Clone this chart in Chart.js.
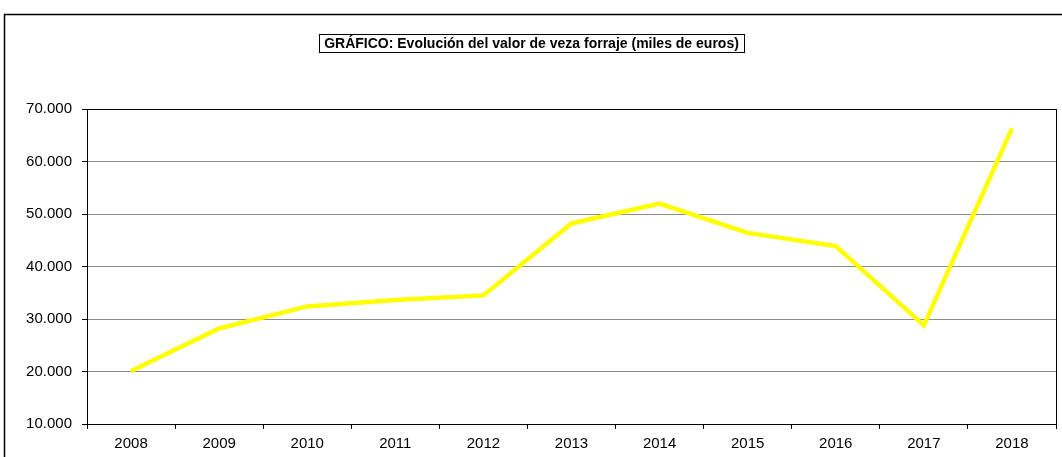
<!DOCTYPE html>
<html lang="es">
<head>
<meta charset="utf-8">
<title>Evolución del valor de veza forraje</title>
<script src="https://cdn.jsdelivr.net/npm/chart.js@4/dist/chart.umd.min.js"></script>
<style>
  html, body { margin: 0; padding: 0; background: #fff; }
  #caja { position: relative; width: 1062px; height: 457px; }
</style>
</head>
<body>
<div id="caja"><canvas id="grafico"></canvas></div>
<script>
const anios = ['2008', '2009', '2010', '2011', '2012', '2013', '2014', '2015', '2016', '2017', '2018'];
const valorVeza = [20100, 28200, 32400, 33600, 34500, 48200, 52000, 46400, 43900, 28800, 66300];
const ticksY = [10000, 20000, 30000, 40000, 50000, 60000, 70000];
const titulo = 'GRÁFICO: Evolución del valor de veza forraje (miles de euros)';

const fuente = "'Liberation Sans', Arial, sans-serif";

// miles con punto: 70000 -> 70.000
function formatoMiles(v) {
    return String(v).replace(/\B(?=(\d{3})+(?!\d))/g, '.');
}

// marco exterior, borde del area de trazado y titulo recuadrado
const marcos = {
    id: 'marcos',
    beforeDraw(chart) {
        const ctx = chart.ctx;
        ctx.save();
        ctx.fillStyle = '#fff';
        ctx.fillRect(0, 0, chart.width, chart.height);
        ctx.strokeStyle = '#000';
        ctx.lineWidth = 1.5;
        ctx.strokeRect(4.5, 14.5, chart.width + 10, chart.height + 10);
        ctx.restore();
    },
    afterDraw(chart) {
        const ctx = chart.ctx;
        const a = chart.chartArea;
        ctx.save();
        ctx.strokeStyle = '#000';
        ctx.lineWidth = 1;
        ctx.strokeRect(Math.round(a.left) + 0.5, Math.round(a.top) + 0.5,
            Math.round(a.right - a.left), Math.round(a.bottom - a.top));

        ctx.font = 'bold 14px ' + fuente;
        ctx.fillStyle = '#000';
        ctx.textAlign = 'center';
        ctx.textBaseline = 'middle';
        const cx = 531.5, cy = 44;
        const w = ctx.measureText(titulo).width;
        ctx.fillText(titulo, cx, cy);
        ctx.strokeRect(Math.round(cx - w / 2 - 5) + 0.5, 34.5, Math.round(w + 10), 18);
        ctx.restore();
    }
};

const ctx = document.querySelector('#grafico').getContext('2d');

new Chart(ctx, {
    type: 'line',
    data: {
        labels: anios,
        datasets: [{
            label: 'Veza forraje',
            data: valorVeza,
            borderColor: '#ffff00',
            borderWidth: 4.5,
            pointRadius: 0,
            tension: 0,
            borderJoinStyle: 'miter',
            borderCapStyle: 'butt',
            fill: false
        }]
    },
    options: {
        responsive: true,
        maintainAspectRatio: false,
        animation: false,
        layout: { padding: { top: 109, left: 10, right: 6, bottom: 0 } },
        plugins: {
            legend: { display: false },
            title: { display: false },
            tooltip: { enabled: false }
        },
        scales: {
            x: {
                offset: true,
                grid: {
                    offset: true,
                    drawOnChartArea: false,
                    drawTicks: true,
                    tickLength: 5,
                    tickColor: '#000'
                },
                border: { color: '#000', width: 1 },
                ticks: {
                    color: '#000',
                    font: { family: fuente, size: 15 },
                    padding: 6,
                    maxRotation: 0
                },
                afterFit(scale) { scale.height = 33; }
            },
            y: {
                min: 10000,
                max: 70000,
                afterBuildTicks(scale) {
                    scale.ticks = ticksY.map(v => ({ value: v }));
                },
                grid: {
                    color: '#8c8c8c',
                    lineWidth: 1,
                    tickLength: 5,
                    tickColor: '#000'
                },
                border: { color: '#000', width: 1 },
                ticks: {
                    color: '#000',
                    font: { family: fuente, size: 15 },
                    padding: 10,
                    callback: v => formatoMiles(v)
                },
                afterFit(scale) { scale.width = 77; }
            }
        }
    },
    plugins: [marcos]
});
</script>
</body>
</html>
